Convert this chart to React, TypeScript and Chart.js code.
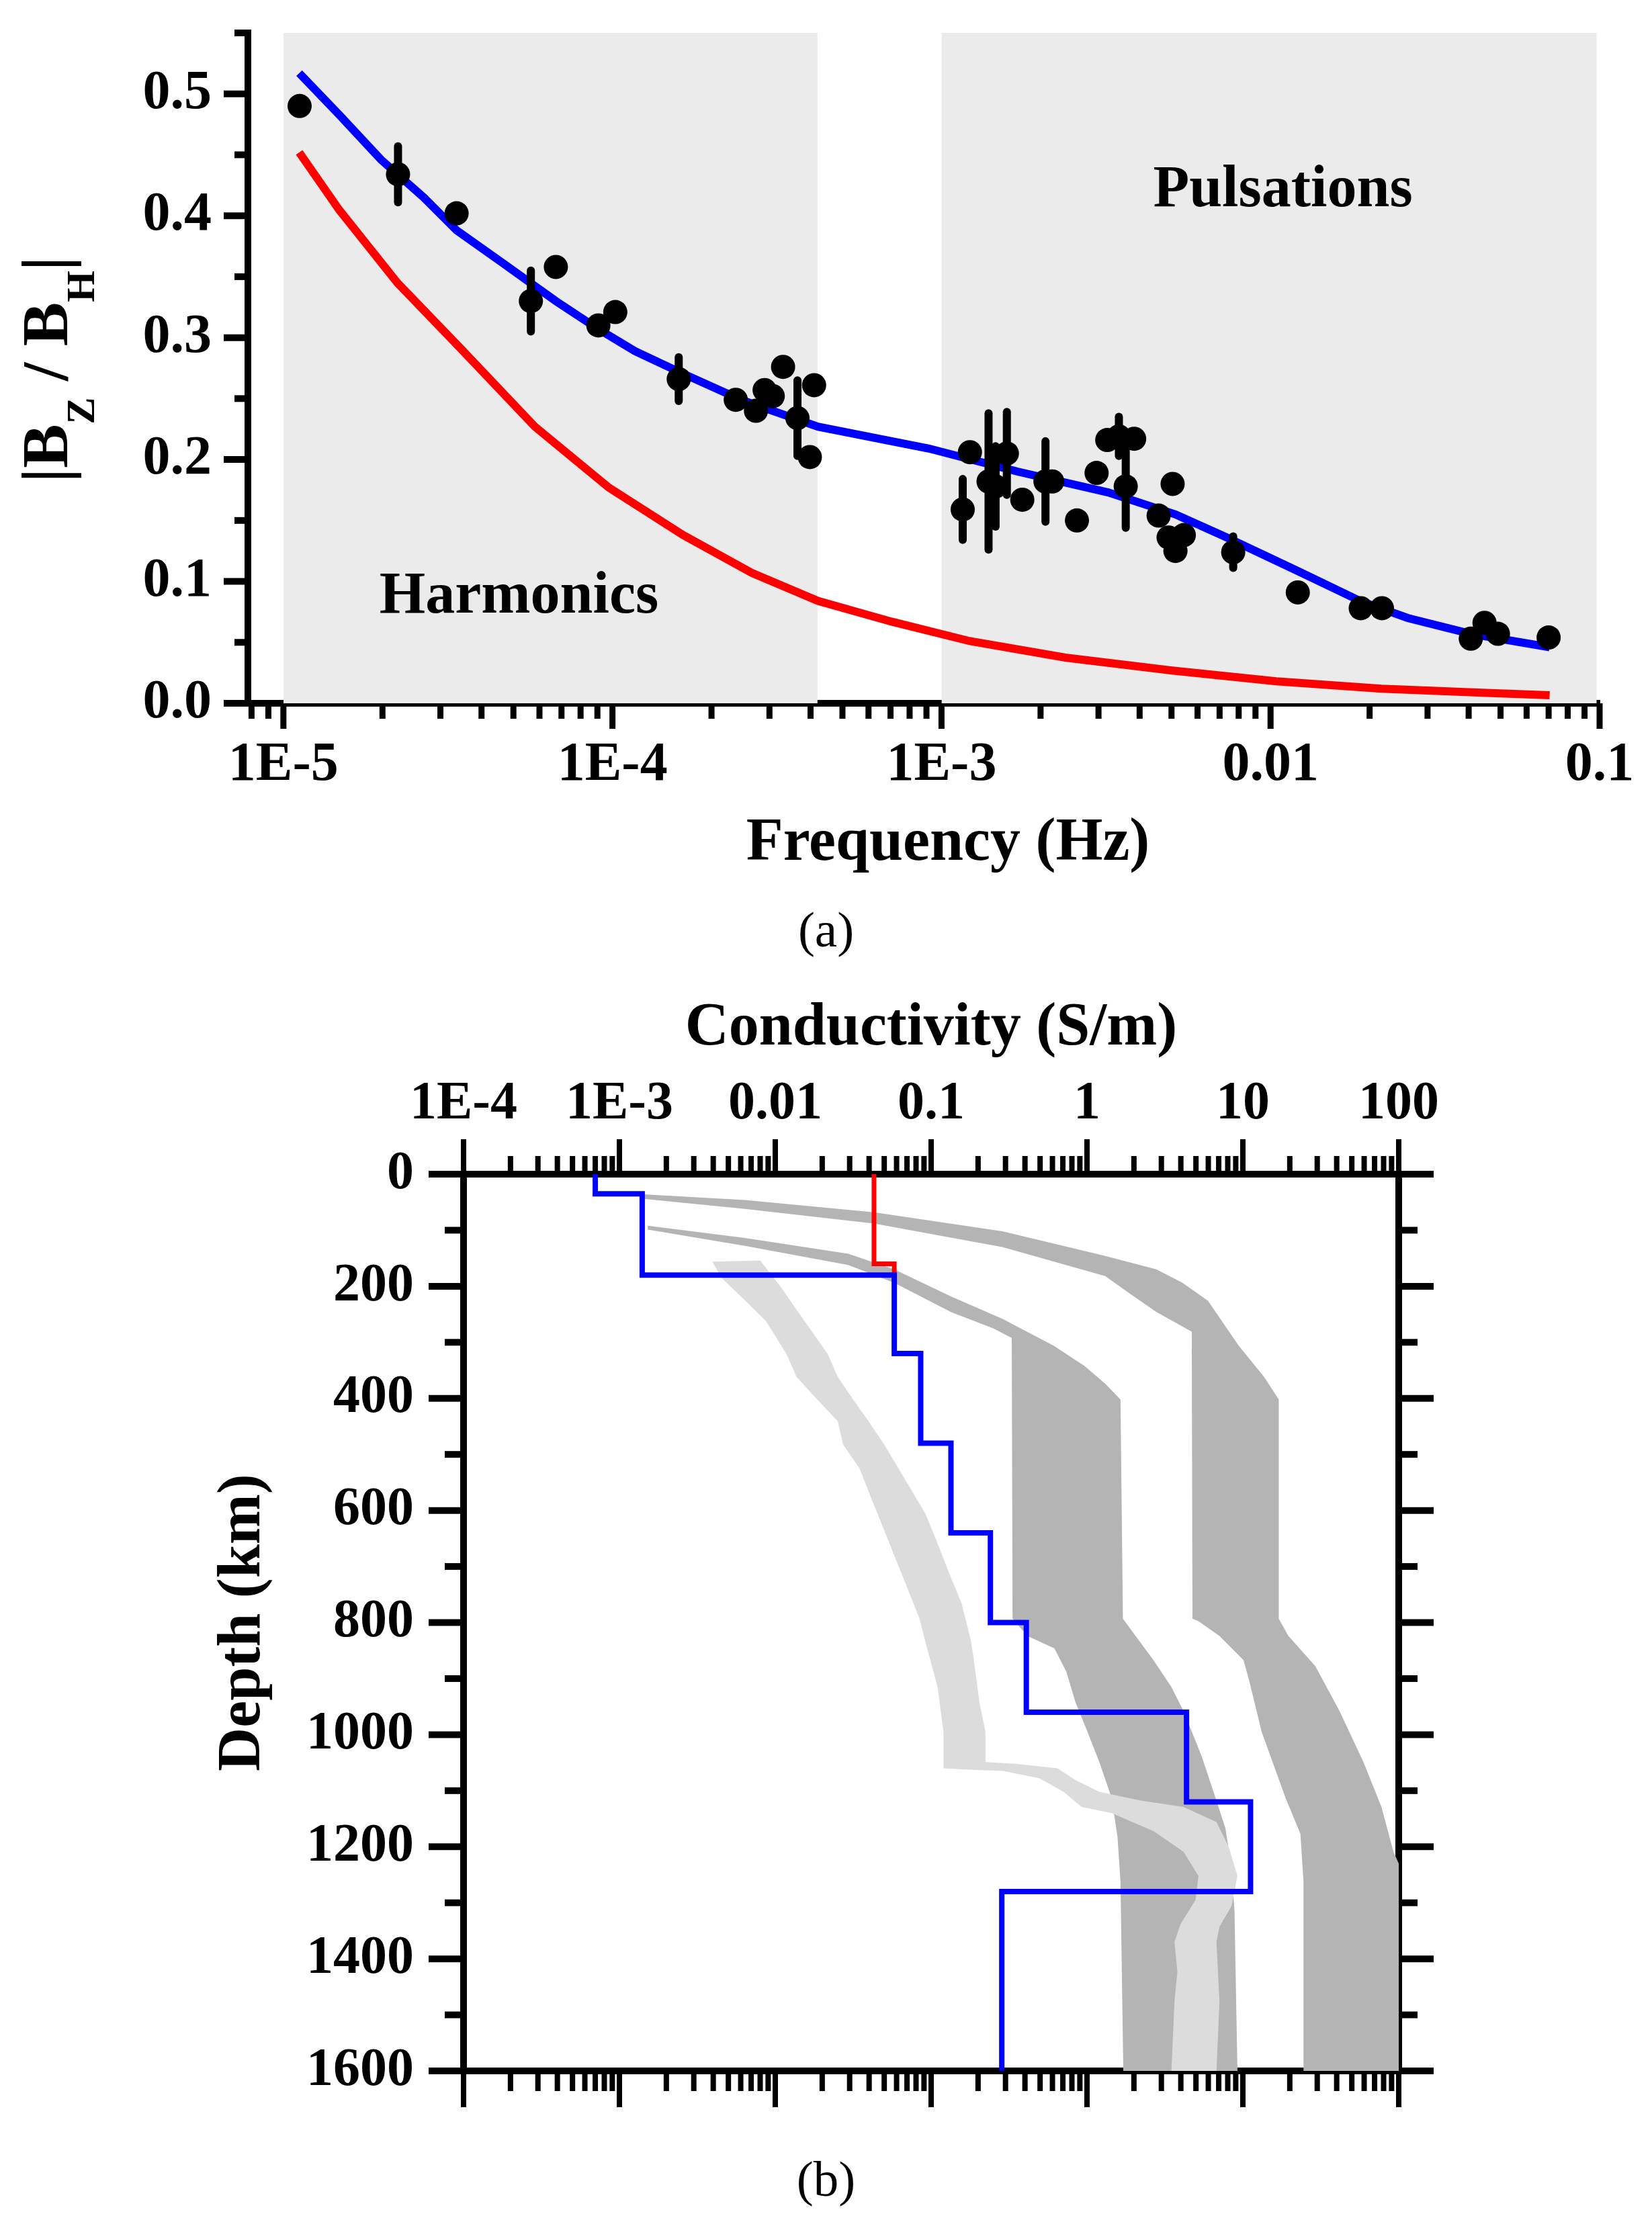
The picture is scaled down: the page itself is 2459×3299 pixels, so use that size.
import { Chart, registerables, type Plugin } from 'chart.js'
import { useEffect, useRef } from 'react'

Chart.register(...registerables)

const SERIF = '"Liberation Serif", "Times New Roman", serif'

// ---------- panel (a): |Bz/Bh| against frequency ----------
const obsFreq = [
  1.12e-5, 2.23e-5, 3.36e-5, 5.65e-5, 6.73e-5, 9.06e-5, 1.02e-4, 1.59e-4, 2.37e-4, 2.73e-4, 2.9e-4, 3.07e-4, 3.3e-4,
  3.65e-4, 3.98e-4, 4.1e-4, 1.16e-3, 1.22e-3, 1.39e-3, 1.46e-3, 1.58e-3, 1.76e-3, 2.07e-3, 2.17e-3, 2.58e-3, 2.96e-3,
  3.19e-3, 3.46e-3, 3.63e-3, 3.85e-3, 4.57e-3, 4.9e-3, 5.04e-3, 5.14e-3, 5.45e-3, 7.7e-3, 1.21e-2, 1.88e-2, 2.18e-2,
  4.06e-2, 4.47e-2, 4.91e-2, 7.0e-2,
]
const obsRatio = [
  0.49, 0.434, 0.402, 0.33, 0.358, 0.31, 0.321, 0.266, 0.249, 0.24, 0.257, 0.252, 0.276, 0.234, 0.202, 0.261, 0.159,
  0.206, 0.182, 0.178, 0.205, 0.167, 0.182, 0.182, 0.15, 0.189, 0.216, 0.219, 0.178, 0.217, 0.154, 0.136, 0.18, 0.125,
  0.138, 0.124, 0.091, 0.078, 0.078, 0.053, 0.066, 0.057, 0.054,
]
const obsError = [
  0, 0.023, 0, 0.025, 0, 0, 0, 0.018, 0, 0, 0, 0, 0, 0.031, 0, 0, 0.025, 0, 0.056, 0.033, 0.034, 0, 0.033, 0, 0, 0, 0,
  0.016, 0.034, 0, 0, 0, 0, 0, 0, 0.013, 0, 0, 0, 0, 0, 0, 0,
]
const modelFreq = [
  1.117e-5, 1.476e-5, 1.98e-5, 2.67e-5, 3.36e-5, 4.65e-5, 6.73e-5, 9.06e-5, 1.17e-4, 1.59e-4, 2.46e-4, 4.21e-4, 9.16e-4,
  1.71e-3, 3.21e-3, 5.14e-3, 7.24e-3, 1.2e-2, 1.87e-2, 2.61e-2, 4.06e-2, 7.05e-2,
]
const modelRatio = [
  0.517, 0.483, 0.446, 0.415, 0.388, 0.361, 0.33, 0.307, 0.289, 0.272, 0.249, 0.227, 0.209, 0.19, 0.173, 0.155, 0.137,
  0.109, 0.084, 0.07, 0.057, 0.046,
]
const halfspaceFreq = [
  1.117e-5, 1.476e-5, 2.22e-5, 3.46e-5, 5.81e-5, 9.75e-5, 1.64e-4, 2.65e-4, 4.21e-4, 7.05e-4, 1.22e-3, 2.38e-3, 4.97e-3,
  1.04e-2, 2.17e-2, 4.53e-2, 7.05e-2,
]
const halfspaceRatio = [
  0.452, 0.405, 0.345, 0.291, 0.227, 0.177, 0.138, 0.107, 0.084, 0.067, 0.051, 0.0375, 0.027, 0.018, 0.012, 0.0085,
  0.0066,
]
const harmonicsRange = [1e-5, 4.2e-4]
const pulsationsRange = [1e-3, 0.098]
const ratioMax = 0.55
const ratioTicks = [0, 0.1, 0.2, 0.3, 0.4, 0.5]
const ratioMinorTicks = [0.05, 0.15, 0.25, 0.35, 0.45, 0.55]
const freqMin = 7.8e-6
const freqDecades = [1e-5, 1e-4, 1e-3, 1e-2, 1e-1]
const freqLabels = ['1E-5', '1E-4', '1E-3', '0.01', '0.1']
const regionNotes = [
  { text: 'Harmonics', freq: 5.2e-5, ratio: 0.0744 },
  { text: 'Pulsations', freq: 0.0109, ratio: 0.408 },
]

// ---------- panel (b): conductivity against depth ----------
const layerTop = [0, 35, 180, 320, 480, 640, 800, 960, 1120, 1280]
const layerSigma = [7.0e-4, 1.4e-3, 0.058, 0.0857, 0.134, 0.24, 0.408, 4.35, 11.2, 0.284]
const crustTop = [0, 160]
const crustSigma = [0.043, 0.058]
const crustBottom = 180
const depthMax = 1600

// right-hand dark band
const outerLeftSigma = [1.43e-3, 6.4e-3, 0.043, 0.286, 1.31, 1.9, 2.79, 4.7, 4.75, 5.19, 7.08, 10.1, 11.0, 13.2, 18.8, 23.4, 24.5, 24.5]
const outerLeftDepth = [44, 62, 88, 130, 182, 214, 246, 281, 793, 797.5, 824, 867, 904.5, 995, 1113, 1177, 1263, 1600]
const outerRightSigma = [1.43e-3, 6.4e-3, 0.043, 0.286, 1.31, 2.79, 4.1, 5.97, 9.4, 13.7, 17.0, 17.0, 19.6, 29.2, 41.7, 59.4, 77.5, 92.5, 100, 100]
const outerRightDepth = [36, 46, 68, 102, 146, 170, 194, 226, 306, 362, 402, 793, 824, 878, 958, 1049, 1129, 1209, 1230, 1600]

// middle dark band
const innerLeftSigma = [1.52e-3, 6.4e-3, 0.0294, 0.058, 0.134, 0.25, 0.329, 0.333, 0.415, 0.618, 0.738, 0.843, 1.007, 1.2, 1.44, 1.57, 1.64, 1.71]
const innerLeftDepth = [99, 128, 162, 194, 246, 275, 292, 793, 824, 846, 888, 942, 995, 1049, 1113, 1183, 1263, 1600]
const innerRightSigma = [1.52e-3, 6.4e-3, 0.0294, 0.058, 0.134, 0.286, 0.61, 0.96, 1.31, 1.64, 1.7, 2.05, 2.67, 3.48, 4.16, 5.43, 6.48, 7.73, 8.45, 8.84, 9.23]
const innerRightDepth = [92, 114, 142, 170, 218, 258, 306, 342, 374, 402, 793, 824, 867, 915, 958, 1038, 1102, 1167, 1236, 1316, 1600]

// light band
const lightLeftSigma = [
  3.94e-3, 4.56e-3, 6.43e-3, 8.7e-3, 0.0118, 0.0137, 0.0186, 0.0252, 0.0272, 0.0347, 0.0414, 0.0494, 0.0591, 0.0705,
  0.0842, 0.092, 0.11, 0.12, 0.12, 0.157, 0.291, 0.496, 0.707, 0.922, 1.44, 2.67, 4.16, 5.19, 4.97, 3.98, 3.64, 3.8,
  3.64, 3.48,
]
const lightLeftDepth = [
  156, 186, 226, 262, 321, 362, 402, 441, 482, 525, 579, 632, 686, 739, 793, 835, 915, 995, 1060, 1062, 1065, 1078, 1102,
  1129, 1140, 1172, 1209, 1252, 1295, 1338, 1370, 1423, 1477, 1600,
]
const lightRightSigma = [
  8.0e-3, 0.0109, 0.0137, 0.0173, 0.0217, 0.0252, 0.0316, 0.0397, 0.0499, 0.0705, 0.092, 0.11, 0.131, 0.157, 0.179,
  0.187, 0.204, 0.223, 0.223, 0.348, 0.647, 0.843, 1.2, 2.24, 4.16, 6.77, 8.09, 9.23, 8.45, 7.08, 6.77, 7.08, 6.77,
]
const lightRightDepth = [
  154, 202, 242, 282, 321, 362, 402, 441, 482, 552, 606, 659, 713, 766, 829, 862, 942, 995, 1049, 1052, 1060, 1081, 1102,
  1118, 1129, 1156, 1199, 1252, 1306, 1343, 1370, 1477, 1600,
]

const sigmaMin = 1e-4
const sigmaMax = 100
const sigmaDecades = [1e-4, 1e-3, 1e-2, 0.1, 1, 10, 100]
const sigmaLabels = ['1E-4', '1E-3', '0.01', '0.1', '1', '10', '100']
const depthTicks = [0, 200, 400, 600, 800, 1000, 1200, 1400, 1600]
const depthMinorTicks = [100, 300, 500, 700, 900, 1100, 1300, 1500]

function logMinorTicks(min: number, max: number) {
  const out: number[] = []
  for (let e = Math.floor(Math.log10(min)); e <= Math.ceil(Math.log10(max)); e++) {
    for (let k = 2; k <= 9; k++) {
      const v = k * Math.pow(10, e)
      if (v >= min && v <= max) out.push(v)
    }
  }
  return out
}

function polygon(leftSigma: number[], leftDepth: number[], rightSigma: number[], rightDepth: number[]) {
  const pts = leftSigma.map((x, i) => ({ x, y: leftDepth[i] }))
  for (let i = rightSigma.length - 1; i >= 0; i--) pts.push({ x: rightSigma[i], y: rightDepth[i] })
  return pts
}

// fixed axis box size; labels may overhang so drop the extra label padding
// eslint-disable-next-line @typescript-eslint/no-explicit-any
const fixedBox = (size: number) => (s: any) => {
  if (s.isHorizontal()) s.height = size
  else s.width = size
  s.paddingTop = 0
  s.paddingBottom = 0
  s.paddingLeft = 0
  s.paddingRight = 0
}

type Side = 'left' | 'right' | 'top' | 'bottom'
type TickSet = { scale: string; side: Side; major: number[]; minor: number[]; majorLen: number; minorLen: number; width: number }

function tickMarks(sets: TickSet[]): Plugin<'line'> {
  return {
    id: 'tickMarks',
    afterDraw(chart) {
      const { ctx, chartArea } = chart
      ctx.save()
      ctx.strokeStyle = '#000'
      for (const set of sets) {
        const scale = chart.scales[set.scale]
        ctx.lineWidth = set.width
        const mark = (value: number, len: number) => {
          const p = scale.getPixelForValue(value)
          ctx.beginPath()
          if (set.side === 'left') {
            ctx.moveTo(chartArea.left, p)
            ctx.lineTo(chartArea.left - len, p)
          } else if (set.side === 'right') {
            ctx.moveTo(chartArea.right, p)
            ctx.lineTo(chartArea.right + len, p)
          } else if (set.side === 'top') {
            ctx.moveTo(p, chartArea.top)
            ctx.lineTo(p, chartArea.top - len)
          } else {
            ctx.moveTo(p, chartArea.bottom)
            ctx.lineTo(p, chartArea.bottom + len)
          }
          ctx.stroke()
        }
        set.minor.forEach((v) => mark(v, set.minorLen))
        set.major.forEach((v) => mark(v, set.majorLen))
      }
      ctx.restore()
    },
  }
}

// titles and region notes of panel (a); the y title needs subscripts
const panelAText: Plugin<'line'> = {
  id: 'panelAText',
  afterDatasetsDraw(chart) {
    const { ctx, scales } = chart
    ctx.save()
    ctx.fillStyle = '#000'
    ctx.font = `bold 88px ${SERIF}`
    ctx.textAlign = 'center'
    ctx.textBaseline = 'alphabetic'
    for (const note of regionNotes) {
      ctx.fillText(note.text, scales.x.getPixelForValue(note.freq), scales.y.getPixelForValue(note.ratio))
    }
    ctx.restore()
  },
  afterDraw(chart) {
    const { ctx, chartArea } = chart
    ctx.save()
    ctx.fillStyle = '#000'
    ctx.font = `bold 90px ${SERIF}`
    ctx.textAlign = 'center'
    ctx.textBaseline = 'middle'
    ctx.fillText('Frequency (Hz)', (chartArea.left + chartArea.right) / 2 + 36, chartArea.bottom + 210)

    const big = `bold 98px ${SERIF}`
    const small = `bold 60px ${SERIF}`
    const runs = [
      { t: '|B', f: big, dy: 0 },
      { t: 'Z', f: small, dy: 40 },
      { t: ' / B', f: big, dy: 0 },
      { t: 'H', f: small, dy: 40 },
      { t: '|', f: big, dy: 0 },
    ]
    let total = 0
    const widths = runs.map((r) => {
      ctx.font = r.f
      const w = ctx.measureText(r.t).width
      total += w
      return w
    })
    ctx.translate(100, (chartArea.top + chartArea.bottom) / 2 + 2)
    ctx.rotate(-Math.PI / 2)
    ctx.textAlign = 'left'
    ctx.textBaseline = 'alphabetic'
    let cx = -total / 2
    runs.forEach((r, i) => {
      ctx.font = r.f
      ctx.fillText(r.t, cx, r.dy)
      cx += widths[i]
    })
    ctx.restore()
  },
}

const boldTick = (size: number) => ({ family: SERIF, weight: 'bold' as const, size, lineHeight: 1.2 })

function FrequencyChart() {
  const canvasRef = useRef<HTMLCanvasElement | null>(null)

  useEffect(() => {
    const canvas = canvasRef.current
    if (!canvas) return

    const errorBars = obsFreq
      .map((f, i) => ({ f, v: obsRatio[i], e: obsError[i] }))
      .filter((p) => p.e > 0)
      .map((p) => ({
        label: 'error',
        data: [
          { x: p.f, y: p.v - p.e },
          { x: p.f, y: p.v + p.e },
        ],
        borderColor: '#000',
        borderWidth: 12,
        borderCapStyle: 'round' as const,
        pointRadius: 0,
        fill: false,
      }))

    const chart = new Chart(canvas, {
      type: 'line',
      data: {
        datasets: [
          {
            label: 'observed',
            data: obsFreq.map((x, i) => ({ x, y: obsRatio[i] })),
            showLine: false,
            pointRadius: 18,
            pointHoverRadius: 18,
            pointBorderWidth: 0,
            pointBackgroundColor: '#000',
            borderColor: '#000',
          },
          ...errorBars,
          {
            label: 'model',
            data: modelFreq.map((x, i) => ({ x, y: modelRatio[i] })),
            borderColor: '#0000ff',
            borderWidth: 12,
            pointRadius: 0,
            fill: false,
          },
          {
            label: 'halfspace',
            data: halfspaceFreq.map((x, i) => ({ x, y: halfspaceRatio[i] })),
            borderColor: '#ff0000',
            borderWidth: 12,
            pointRadius: 0,
            fill: false,
          },
          {
            label: 'Harmonics',
            data: harmonicsRange.map((x) => ({ x, y: ratioMax })),
            borderColor: 'rgba(0,0,0,0)',
            borderWidth: 0,
            backgroundColor: '#ebebeb',
            pointRadius: 0,
            fill: 'origin',
          },
          {
            label: 'Pulsations',
            data: pulsationsRange.map((x) => ({ x, y: ratioMax })),
            borderColor: 'rgba(0,0,0,0)',
            borderWidth: 0,
            backgroundColor: '#ebebeb',
            pointRadius: 0,
            fill: 'origin',
          },
        ],
      },
      options: {
        animation: false,
        responsive: false,
        devicePixelRatio: 1,
        layout: { padding: { top: 49, right: 78, bottom: 0, left: 0 } },
        plugins: { legend: { display: false }, tooltip: { enabled: false } },
        scales: {
          x: {
            type: 'logarithmic',
            min: freqMin,
            max: 0.1,
            afterBuildTicks: (s) => {
              s.ticks = freqDecades.map((value) => ({ value }))
            },
            afterFit: fixedBox(283),
            grid: { drawOnChartArea: false, drawTicks: false },
            border: { display: true, color: '#000', width: 10 },
            ticks: {
              autoSkip: false,
              maxRotation: 0,
              padding: 44,
              color: '#000',
              font: boldTick(82),
              callback: (_v, i) => freqLabels[i],
            },
          },
          y: {
            type: 'linear',
            min: 0,
            max: ratioMax,
            afterBuildTicks: (s) => {
              s.ticks = ratioTicks.map((value) => ({ value }))
            },
            afterFit: fixedBox(369),
            grid: { drawOnChartArea: false, drawTicks: false },
            border: { display: true, color: '#000', width: 10 },
            ticks: {
              padding: 54,
              color: '#000',
              font: boldTick(82),
              callback: (v) => Number(v).toFixed(1),
            },
          },
        },
      },
      plugins: [
        tickMarks([
          { scale: 'y', side: 'left', major: ratioTicks, minor: ratioMinorTicks, majorLen: 36, minorLen: 20, width: 10 },
          {
            scale: 'x',
            side: 'bottom',
            major: freqDecades,
            minor: logMinorTicks(freqMin, 0.1),
            majorLen: 38,
            minorLen: 23,
            width: 9,
          },
        ]),
        panelAText,
      ],
    })

    return () => {
      chart.destroy()
    }
  }, [])

  return <canvas ref={canvasRef} width={2459} height={1330} style={{ position: 'absolute', left: 0, top: 0, width: 2459, height: 1330 }} />
}

function ConductivityChart() {
  const canvasRef = useRef<HTMLCanvasElement | null>(null)

  useEffect(() => {
    const canvas = canvasRef.current
    if (!canvas) return

    const band = (data: { x: number; y: number }[], color: string) => ({
      label: 'range',
      data,
      borderColor: 'rgba(0,0,0,0)',
      borderWidth: 0,
      backgroundColor: color,
      pointRadius: 0,
      fill: 'shape' as const,
    })

    const chart = new Chart(canvas, {
      type: 'line',
      data: {
        datasets: [
          {
            label: 'model',
            data: [...layerTop.map((y, i) => ({ x: layerSigma[i], y })), { x: layerSigma[layerSigma.length - 1], y: depthMax }],
            stepped: 'after',
            borderColor: '#0000ff',
            borderWidth: 8,
            pointRadius: 0,
            fill: false,
          },
          {
            label: 'crust',
            data: [...crustTop.map((y, i) => ({ x: crustSigma[i], y })), { x: crustSigma[crustSigma.length - 1], y: crustBottom }],
            stepped: 'after',
            borderColor: '#ff0000',
            borderWidth: 7,
            pointRadius: 0,
            fill: false,
          },
          band(polygon(lightLeftSigma, lightLeftDepth, lightRightSigma, lightRightDepth), '#dcdcdc'),
          band(polygon(outerLeftSigma, outerLeftDepth, outerRightSigma, outerRightDepth), '#b4b4b4'),
          band(polygon(innerLeftSigma, innerLeftDepth, innerRightSigma, innerRightDepth), '#b4b4b4'),
        ],
      },
      options: {
        animation: false,
        responsive: false,
        devicePixelRatio: 1,
        layout: { padding: 0 },
        plugins: { legend: { display: false }, tooltip: { enabled: false } },
        scales: {
          x: {
            type: 'logarithmic',
            position: 'top',
            min: sigmaMin,
            max: sigmaMax,
            afterBuildTicks: (s) => {
              s.ticks = sigmaDecades.map((value) => ({ value }))
            },
            afterFit: fixedBox(308),
            grid: { drawOnChartArea: false, drawTicks: false },
            border: { display: true, color: '#000', width: 10 },
            ticks: {
              autoSkip: false,
              maxRotation: 0,
              padding: 56,
              color: '#000',
              font: boldTick(80),
              callback: (_v, i) => sigmaLabels[i],
            },
            title: {
              display: true,
              text: 'Conductivity (S/m)',
              color: '#000',
              font: { family: SERIF, weight: 'bold', size: 90, lineHeight: 1.2 },
              padding: { top: 38, bottom: 0 },
            },
          },
          x2: {
            type: 'logarithmic',
            position: 'bottom',
            min: sigmaMin,
            max: sigmaMax,
            afterFit: fixedBox(77),
            grid: { drawOnChartArea: false, drawTicks: false },
            border: { display: true, color: '#000', width: 10 },
            ticks: { display: false },
          },
          y: {
            type: 'linear',
            position: 'left',
            reverse: true,
            min: 0,
            max: depthMax,
            afterBuildTicks: (s) => {
              s.ticks = depthTicks.map((value) => ({ value }))
            },
            afterFit: fixedBox(690),
            grid: { drawOnChartArea: false, drawTicks: false },
            border: { display: true, color: '#000', width: 10 },
            ticks: { padding: 74, color: '#000', font: boldTick(80), callback: (v) => String(v) },
            title: {
              display: true,
              text: 'Depth (km)',
              color: '#000',
              font: { family: SERIF, weight: 'bold', size: 90, lineHeight: 1.2 },
              padding: { top: 309, bottom: 0 },
            },
          },
          y2: {
            type: 'linear',
            position: 'right',
            reverse: true,
            min: 0,
            max: depthMax,
            afterFit: fixedBox(377),
            grid: { drawOnChartArea: false, drawTicks: false },
            border: { display: true, color: '#000', width: 10 },
            ticks: { display: false },
          },
        },
      },
      plugins: [
        tickMarks([
          { scale: 'y', side: 'left', major: depthTicks, minor: depthMinorTicks, majorLen: 52, minorLen: 28, width: 10 },
          { scale: 'y2', side: 'right', major: depthTicks, minor: depthMinorTicks, majorLen: 52, minorLen: 28, width: 10 },
          {
            scale: 'x',
            side: 'top',
            major: sigmaDecades,
            minor: logMinorTicks(sigmaMin, sigmaMax),
            majorLen: 52,
            minorLen: 27,
            width: 8,
          },
          {
            scale: 'x2',
            side: 'bottom',
            major: sigmaDecades,
            minor: logMinorTicks(sigmaMin, sigmaMax),
            majorLen: 54,
            minorLen: 30,
            width: 8,
          },
        ]),
      ],
    })

    return () => {
      chart.destroy()
    }
  }, [])

  return <canvas ref={canvasRef} width={2459} height={1720} style={{ position: 'absolute', left: 0, top: 1440, width: 2459, height: 1720 }} />
}

const caption = (top: number) =>
  ({
    position: 'absolute',
    left: 0,
    top,
    width: 2459,
    textAlign: 'center',
    fontFamily: SERIF,
    fontSize: 75,
    lineHeight: '75px',
    color: '#000',
  }) as const

export default function App() {
  return (
    <div style={{ position: 'absolute', left: 0, top: 0, width: 2459, height: 3299, background: '#fff', overflow: 'hidden' }}>
      <FrequencyChart />
      <div style={caption(1346)}>(a)</div>
      <ConductivityChart />
      <div style={caption(3206)}>(b)</div>
    </div>
  )
}
